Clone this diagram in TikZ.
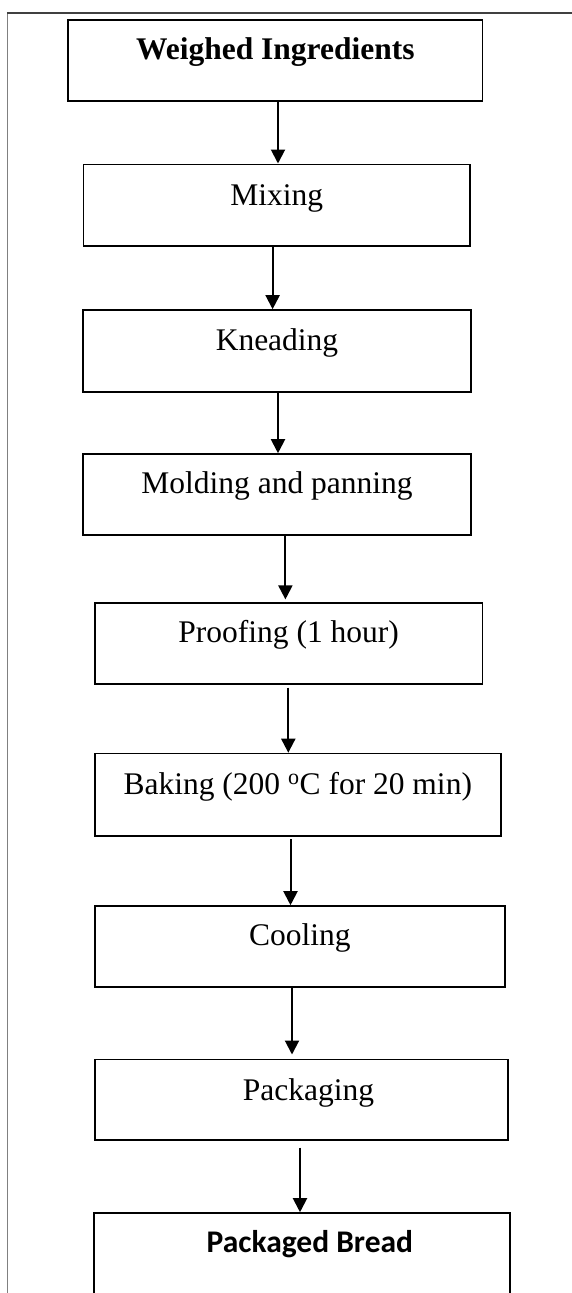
\documentclass[tikz,border=0pt]{standalone}
\usepackage{fontspec}
\setmainfont{Liberation Serif}
\newfontfamily\calibri{Carlito}
\usetikzlibrary{arrows.meta}
\definecolor{framedark}{HTML}{404040}
\definecolor{framelight}{HTML}{808080}
\tikzset{
  stepbox/.style={draw=black, line width=1.6pt, rectangle, anchor=base,
    inner xsep=0pt, inner ysep=0pt, align=center,
    font=\fontsize{31.5}{37}\selectfont},
  flowarrow/.style={draw=black, line width=2pt,
    -{Triangle[length=14pt,width=14pt]}},
}
\begin{document}
\begin{tikzpicture}[x=1pt,y=-1pt]
\useasboundingbox (0,0) rectangle (572,1293);
\clip (0,0) rectangle (572,1293);
% outer frame
\draw[framelight, line width=1.3pt] (7.5,1300) -- (7.5,13.3);
\draw[framedark, line width=2pt] (6.9,13.3) -- (575,13.3);
% boxes
\node[stepbox, minimum width=414.3pt, text height=39.3pt, text depth=41.4pt] (w) at (275.35,59.3) {\textbf{Weighed Ingredients}};
\node[stepbox, minimum width=386.4pt, text height=40.7pt, text depth=41pt] (mix) at (276.8,205) {Mixing};
\node[stepbox, minimum width=387.6pt, text height=40pt, text depth=41.7pt] (kn) at (277,350) {Kneading};
\node[stepbox, minimum width=387.6pt, text height=39pt, text depth=42pt] (mo) at (277,493) {Molding and panning};
\node[stepbox, minimum width=387.6pt, text height=40pt, text depth=41.3pt] (pr) at (288.7,642.7) {Proofing (1 hour)};
\node[stepbox, minimum width=405.8pt, text height=40.5pt, text depth=41.7pt] (ba) at (297.8,794) {Baking (200 \textsuperscript{o}C for 20 min)};
\node[stepbox, minimum width=410.1pt, text height=39pt, text depth=41.7pt] (co) at (299.95,945) {Cooling};
\node[stepbox, minimum width=413.1pt, text height=40.7pt, text depth=40pt] (pa) at (301.45,1100) {\hspace*{14pt}Packaging};
\node[stepbox, minimum width=415.8pt, text height=39.7pt, text depth=80pt] (pb) at (301.9,1252.7) {\hspace*{16pt}{\calibri\bfseries Packaged Bread}};
% arrow x positions
\coordinate (a1) at (278,0);
\coordinate (a2) at (272.6,0);
\coordinate (a3) at (278,0);
\coordinate (a4) at (285.4,0);
\coordinate (a5) at (288.3,0);
\coordinate (a6) at (290.5,0);
\coordinate (a7) at (292,0);
\coordinate (a8) at (300,0);
% arrows
\draw[flowarrow] (w.south -| a1) -- (mix.north -| a1);
\draw[flowarrow] (mix.south -| a2) -- (kn.north -| a2);
\draw[flowarrow] (kn.south -| a3) -- (mo.north -| a3);
\draw[flowarrow, shorten >=2.5pt] (mo.south -| a4) -- (pr.north -| a4);
\draw[flowarrow, shorten <=2.7pt] (pr.south -| a5) -- (ba.north -| a5);
\draw[flowarrow, shorten <=2.6pt] (ba.south -| a6) -- (co.north -| a6);
\draw[flowarrow, shorten >=4pt] (co.south -| a7) -- (pa.north -| a7);
\draw[flowarrow, shorten <=6.7pt] (pa.south -| a8) -- (pb.north -| a8);
\end{tikzpicture}
\end{document}
